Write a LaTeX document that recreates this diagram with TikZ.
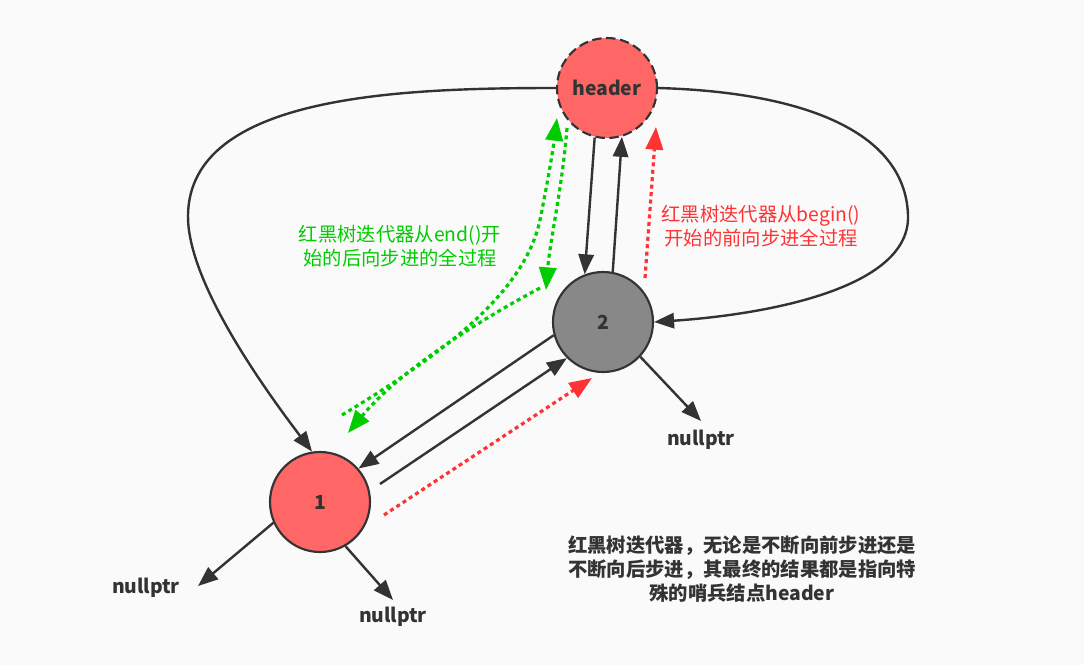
\documentclass[tikz,border=0pt]{standalone}
\usepackage{fontspec}
\setmainfont{Noto Sans CJK SC}
\usepackage{tikz}
\usetikzlibrary{arrows.meta,shapes}
\definecolor{nodered}{HTML}{FF6666}
\definecolor{nodegray}{HTML}{888888}
\definecolor{ink}{HTML}{333333}
\definecolor{fwdred}{HTML}{FF3333}
\definecolor{bwdgreen}{HTML}{00CC00}
\definecolor{paper}{HTML}{FAFAFA}
\newcommand{\labelfont}{\fontsize{14.5pt}{18pt}\selectfont}
\tikzstyle{vertex}=[circle,draw=ink,line width=1.6pt,minimum size=75pt,inner sep=0pt,font=\labelfont\bfseries,text=ink]
\tikzstyle{red vertex}=[vertex,fill=nodered]
\tikzstyle{gray vertex}=[vertex,fill=nodegray]
\tikzstyle{arrow}=[draw=ink,line width=1.8pt,-{Triangle[length=15pt,width=11.5pt]}]
\tikzstyle{fwd}=[draw=fwdred,line width=2.4pt,dash pattern=on 3pt off 2.6pt,-{Triangle[length=17pt,width=13pt]}]
\tikzstyle{bwd}=[fwd,draw=bwdgreen]
\tikzstyle{leaf}=[font=\labelfont\bfseries,text=ink]

\begin{document}
\begin{tikzpicture}[x=0.75pt,y=-0.75pt,font=\labelfont]
    \fill[paper] (0,0) rectangle (1084,665);
    \useasboundingbox (0,0) rectangle (1084,665);
    % the three tree nodes
    \node[red vertex,dash pattern=on 7pt off 3.5pt] (header) at (607,88) {header};
    \node[gray vertex] (n2) at (603,322) {2};
    \node[red vertex] (n1) at (320,502) {1};
    % nullptr leaves
    \foreach \pos/\name in {{(146,588)/nullA}, {(393,617)/nullB}, {(701,440)/nullC}}
        \node[leaf] (\name) at \pos {nullptr};
    \coordinate (tipA) at (198,586);
    \coordinate (tipB) at (393,600);
    \coordinate (tipC) at (701,421);
    \path[arrow] (n1.204) -- (tipA);
    \path[arrow] (n1.300) -- (tipB);
    \path[arrow] (n2.317) -- (tipC);
    % links between the nodes
    \path[arrow] (header.west) .. controls (400,88) and (190,95) .. (188,215) .. controls (187,275) and (250,370) .. (n1.99);
    \path[arrow] (header.east) .. controls (800,92) and (905,130) .. (908,215) .. controls (911,290) and (760,315) .. (n2.east);
    \path[arrow] (header.256) -- (n2.111);
    \path[arrow] (n2.79) -- (header.287);
    \path[arrow] (n2.195) -- (n1.41);
    \coordinate (s12) at (380,484);
    \path[arrow] (s12) -- (n2.225);
    % begin() ... forward walk
    \coordinate (f1) at (384,515);
    \coordinate (f2) at (592,378);
    \coordinate (f3) at (645,278);
    \coordinate (f4) at (656,127);
    \path[fwd] (f1) -- (f2);
    \path[fwd] (f3) -- (f4);
    % end() ... backward walk
    \coordinate (b1) at (342,415);
    \coordinate (b2) at (557,118);
    \coordinate (b3) at (567,128);
    \coordinate (b4) at (546,290);
    \coordinate (b5) at (540,288);
    \coordinate (b6) at (348,433);
    \path[bwd] (b1) .. controls (450,350) and (525,290) .. (540,220) .. controls (548,180) and (553,150) .. (b2);
    \path[bwd] (b3) .. controls (562,190) and (550,240) .. (b4);
    \path[bwd] (b5) .. controls (480,320) and (400,370) .. (b6);
    % labels
    \node[text=bwdgreen,align=center] (endlbl) at (400,246) {红黑树迭代器从end()开\\始的后向步进的全过程};
    \node[text=fwdred,align=center] (beginlbl) at (761,226) {红黑树迭代器从begin()\\开始的前向步进全过程};
    \node[leaf,align=center] (summary) at (742,569) {红黑树迭代器，无论是不断向前步进还是\\不断向后步进，其最终的结果都是指向特\\殊的哨兵结点header};
\end{tikzpicture}
\end{document}
